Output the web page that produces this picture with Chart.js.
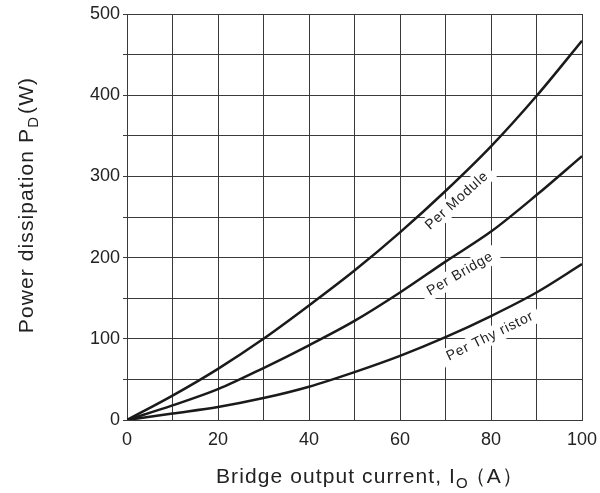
<!DOCTYPE html>
<html>
<head>
<meta charset="utf-8">
<script src="https://cdn.jsdelivr.net/npm/chart.js@4.4.1/dist/chart.umd.min.js"></script>
<style>
html,body{margin:0;padding:0;background:#fff;}
#wrap{width:600px;height:493px;position:relative;}
</style>
</head>
<body>
<div id="wrap"><canvas id="c" width="600" height="493"></canvas></div>
<script>
const currentA = [0, 10, 20, 30, 40, 50, 60, 70, 80, 90, 100];
const perModule = [0, 30, 63, 100, 141, 184, 231, 282, 337, 399, 467];
const perBridge = [0, 18, 38, 64, 92, 122, 157, 195, 232, 277, 325];
const perThyristor = [0, 8, 16, 27, 41, 59, 79, 102, 128, 157, 192];
const xTicks = [0, 20, 40, 60, 80, 100];
const yTicks = [0, 100, 200, 300, 400, 500];
const curveLabels = [
  {text: 'Per Module', x: 72.5, y: 270, angle: -42},
  {text: 'Per Bridge', x: 73.2, y: 180, angle: -30},
  {text: 'Per Thy ristor', x: 79.8, y: 103, angle: -26}
];

const FONT = '"Liberation Sans", Arial, sans-serif';
const ink = '#1a1a1a';

function toPts(ys){ return currentA.map((x,i)=>({x:x,y:ys[i]})); }

function drawParts(ctx, parts, x0, y0, spacing){
  ctx.letterSpacing = spacing + 'px';
  let total = 0;
  parts.forEach(p=>{ ctx.font = p[1]; total += ctx.measureText(p[0]).width + (p[3]||0); });
  let x = x0 - total/2;
  parts.forEach(p=>{ ctx.font = p[1]; x += (p[3]||0); ctx.fillText(p[0], x, y0 + p[2]); x += ctx.measureText(p[0]).width; });
}

const labelsPlugin = {
  id: 'curveLabels',
  afterDatasetsDraw(chart){
    const ctx = chart.ctx, xs = chart.scales.x, ys = chart.scales.y;
    ctx.save();
    ctx.font = '14px ' + FONT;
    ctx.letterSpacing = '0.8px';
    curveLabels.forEach(l=>{
      const px = xs.getPixelForValue(l.x), py = ys.getPixelForValue(l.y);
      ctx.save();
      ctx.translate(px, py);
      ctx.rotate(l.angle*Math.PI/180);
      const w = ctx.measureText(l.text).width;
      ctx.fillStyle = '#fff';
      ctx.fillRect(-w/2-6, -9, w+12, 18);
      ctx.fillStyle = '#222';
      ctx.textAlign = 'center';
      ctx.textBaseline = 'middle';
      ctx.fillText(l.text, 0, 0);
      ctx.restore();
    });
    ctx.restore();
  },
  afterDraw(chart){
    const ctx = chart.ctx;
    ctx.save();
    ctx.fillStyle = '#222';
    ctx.textBaseline = 'alphabetic';
    const big = '21px ' + FONT, small = '15px ' + FONT;
    drawParts(ctx, [['Bridge output current, I', big, 0], ['O', small, 5], ['（A）', big, 0, -4]], 370, 483, 1.1);
    ctx.translate(33, 205);
    ctx.rotate(-Math.PI/2);
    drawParts(ctx, [['Power dissipation P', big, 0], ['D', small, 5], ['(W)', big, 0, 2]], 0, 0, 1.1);
    ctx.restore();
  }
};

const ds = (label, data) => ({
  label, data: toPts(data), borderColor: ink, borderWidth: 2.5,
  pointRadius: 0, fill: false, cubicInterpolationMode: 'monotone'
});

new Chart(document.getElementById('c'), {
  type: 'line',
  data: { datasets: [ds('Per Module', perModule), ds('Per Bridge', perBridge), ds('Per Thyristor', perThyristor)] },
  options: {
    responsive: false, animation: false, devicePixelRatio: 1,
    layout: { padding: { left: 0, right: 18, top: 14, bottom: 0 } },
    plugins: { legend: { display: false }, tooltip: { enabled: false } },
    scales: {
      x: {
        type: 'linear', min: 0, max: 100,
        afterFit: s => { s.height = 73; s.paddingLeft = 0; s.paddingRight = 0; },
        grid: { color: '#3a3a3a', lineWidth: 1, tickLength: 0 },
        border: { color: '#3a3a3a', width: 1 },
        afterBuildTicks: s => { s.ticks = currentA.map(v=>({value:v})); },
        ticks: {
          font: { family: FONT, size: 18 }, color: '#222', padding: 9, maxRotation: 0,
          callback: v => xTicks.includes(v) ? String(v) : ''
        }
      },
      y: {
        type: 'linear', min: 0, max: 500,
        afterFit: s => { s.width = 127; s.paddingTop = 0; s.paddingBottom = 0; },
        grid: { color: '#3a3a3a', lineWidth: 1, tickLength: 4 },
        border: { color: '#3a3a3a', width: 1 },
        afterBuildTicks: s => { const t=[]; for (let v=0; v<=500; v+=50) t.push({value:v}); s.ticks = t; },
        ticks: {
          font: { family: FONT, size: 18 }, color: '#222', padding: 3,
          callback: v => yTicks.includes(v) ? String(v) : ''
        }
      }
    }
  },
  plugins: [labelsPlugin]
});
</script>
</body>
</html>
